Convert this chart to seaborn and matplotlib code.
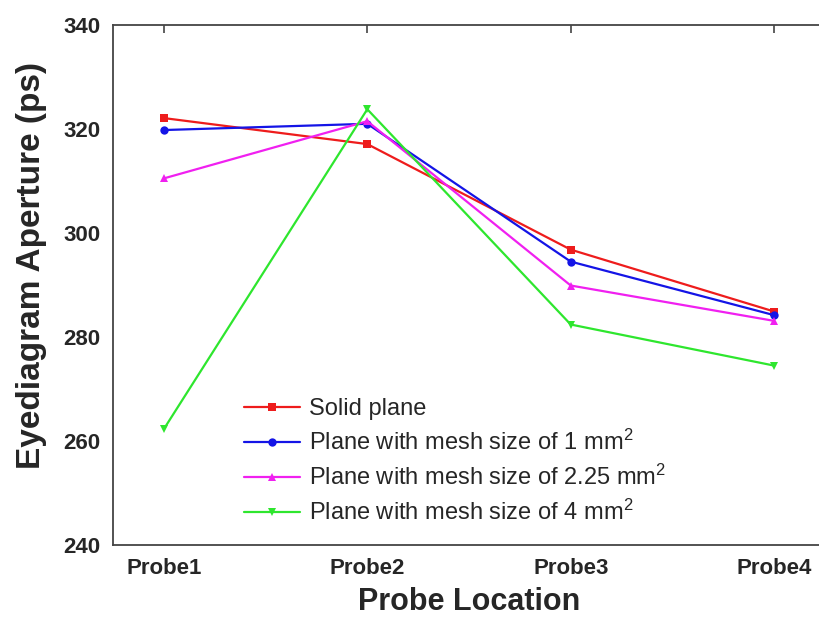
import pandas as pd
import matplotlib.pyplot as plt
import seaborn as sns

sns.set_theme(style="white")
plt.rcParams['font.family'] = ['Liberation Sans', 'DejaVu Sans']
plt.rcParams['mathtext.default'] = 'regular'

# data
probes = ["Probe1", "Probe2", "Probe3", "Probe4"]
solid = [322.1, 317.1, 296.8, 284.9]
mesh_1 = [319.8, 321.0, 294.5, 284.2]
mesh_225 = [310.5, 321.5, 289.9, 283.1]
mesh_4 = [262.3, 323.8, 282.4, 274.5]

series = [
    ("Solid plane", solid, "#ee1c1c", "s"),
    ("Plane with mesh size of 1 mm$^2$", mesh_1, "#1414e6", "o"),
    ("Plane with mesh size of 2.25 mm$^2$", mesh_225, "#f020f0", "^"),
    ("Plane with mesh size of 4 mm$^2$", mesh_4, "#2ee62e", "v"),
]

fig = plt.figure(figsize=(8.19, 6.17), dpi=100)
ax = fig.add_axes([113 / 819, 1 - 545 / 617, 712 / 819, 520 / 617])

for name, vals, col, mk in series:
    df = pd.DataFrame({"Probe": probes, "Aperture": vals})
    sns.lineplot(data=df, x="Probe", y="Aperture", ax=ax, color=col, marker=mk,
                 markersize=6, markeredgewidth=0, linewidth=1.6, label=name)

ax.set_xlim(-0.25, 3.25)
ax.set_ylim(240, 340)
ax.set_yticks([240, 260, 280, 300, 320, 340])
ax.set_xlabel("Probe Location", fontsize=22, fontweight='bold', labelpad=6)
ax.set_ylabel("Eyediagram Aperture (ps)", fontsize=24, fontweight='bold')
ax.yaxis.set_label_coords(-0.093, 0.538)
ax.tick_params(axis='both', direction='in', length=6, width=1.2, color='#444444',
               top=True, right=False, labelsize=16, pad=9)
for lab in ax.get_xticklabels() + ax.get_yticklabels():
    lab.set_fontweight('bold')
for sp in ax.spines.values():
    sp.set_color('#444444')
    sp.set_linewidth(1.3)

ax.legend(loc="upper left", bbox_to_anchor=(232 / 819, 1 - 386 / 617),
          bbox_transform=fig.transFigure, frameon=False, fontsize=17,
          handlelength=2.4, handletextpad=0.35, labelspacing=0.42, borderpad=0)

fig.savefig("out.png", dpi=100)
